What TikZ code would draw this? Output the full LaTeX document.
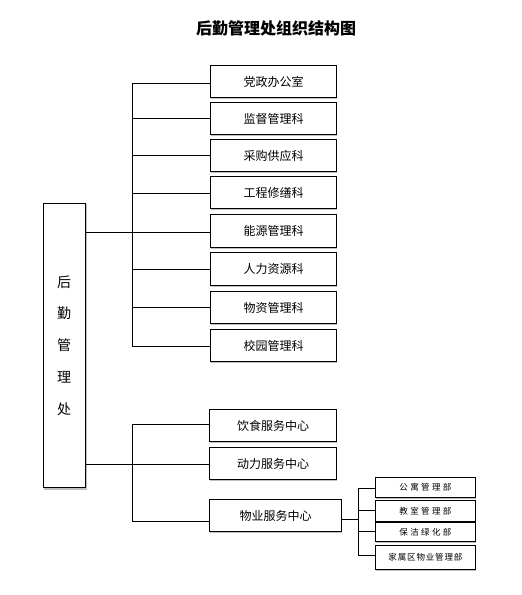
\documentclass[tikz,border=0pt]{standalone}
\usepackage{fontspec}
\setmainfont{Noto Sans CJK SC}
\newfontfamily\smwide[LetterSpace=28]{Noto Sans CJK SC}
\newfontfamily\smnarrow[LetterSpace=10]{Noto Sans CJK SC}
\begin{document}
\begin{tikzpicture}[x=1pt,y=-1pt,
  box/.style={draw=black,line width=1.1pt,fill=white,font=\fontsize{12}{14}\selectfont,inner sep=0pt},
  sbox/.style={draw=black,line width=0.9pt,fill=white,inner sep=0pt},
  conn/.style={line width=1pt,draw=black},
  shadowc/.style={line width=1.2pt,draw=black!25}]
\useasboundingbox (0,0) rectangle (522,595);
\node[font=\fontsize{16}{18}\selectfont\bfseries] (title) at (276,28) {后勤管理处组织结构图};
% main box
\draw[shadowc] (44,489) -- (86,489) -- (86,204);
\node[box,minimum width=42pt,minimum height=284pt,anchor=north west] (main) at (43,203) {};
\foreach \c/\y in {后/282,勤/313,管/345,理/377,处/409}
  \node[font=\fontsize{14}{16}\selectfont] at (64,\y) {\c};
% upper boxes
\foreach \n/\t/\ya/\yb in {b1/党政办公室/65/97,b2/监督管理科/102/134,b3/采购供应科/139/171,b4/工程修缮科/176/208,b5/能源管理科/214/247,b6/人力资源科/252/285,b7/物资管理科/291/323,b8/校园管理科/329/361}{
  \draw[shadowc] (211,\yb+1.5) -- (337,\yb+1.5);
  \node[box,minimum width=126pt,minimum height=\yb-\ya,anchor=north west] (\n) at (210,\ya) {\t};
}
\coordinate (vt) at (132,83);
\coordinate (vb) at (132,346);
\draw[conn] (vt) -- (vb);
\draw[conn] (vt) -- (b1.west|-vt);
\foreach \n/\y in {b2/118,b3/155,b4/193,b6/269,b7/307}
  \draw[conn] (132,\y) -- (\n.west|-{(0,\y)});
\draw[conn] (vb) -- (b8.west|-vb);
\draw[conn] (main.east|-{(0,232)}) -- (b5.west|-{(0,232)});
% lower boxes
\foreach \n/\t/\ya/\yb/\xr in {c1/饮食服务中心/409/441/336,c2/动力服务中心/447/479/336,c3/物业服务中心/499/531/341}{
  \draw[shadowc] (210,\yb+1.5) -- (\xr+1,\yb+1.5);
  \node[box,minimum width=\xr-209,minimum height=\yb-\ya,anchor=north west] (\n) at (209,\ya) {\t};
}
\coordinate (wt) at (132,424);
\coordinate (wb) at (132,521);
\draw[conn] (wt) -- (wb);
\draw[conn] (wt) -- (c1.west|-wt);
\draw[conn] (wb) -- (c3.west|-wb);
\draw[conn] (main.east|-{(0,464)}) -- (c2.west|-{(0,464)});
% small boxes
\foreach \n/\t/\ya/\yb/\f in {d1/公寓管理部/477/497/\smwide,d2/教室管理部/500/521/\smwide,d3/保洁绿化部/522/541/\smwide,d4/家属区物业管理部/545/569/\smnarrow}{
  \draw[shadowc] (376,\yb+1.2) -- (476,\yb+1.2);
  \node[sbox,minimum width=100pt,minimum height=\yb-\ya,anchor=north west,font=\f\fontsize{8.5}{10}\selectfont] (\n) at (375,\ya) {\t};
}
\coordinate (st) at (358,488);
\coordinate (sb) at (358,555);
\coordinate (sm) at (358,519);
\draw[conn] (st) -- (sb);
\draw[conn] (c3.east|-sm) -- (sm);
\draw[conn] (st) -- (d1.west|-st);
\draw[conn] (358,510) -- (d2.west|-{(0,510)});
\draw[conn] (358,531) -- (d3.west|-{(0,531)});
\draw[conn] (sb) -- (d4.west|-sb);
\end{tikzpicture}
\end{document}
